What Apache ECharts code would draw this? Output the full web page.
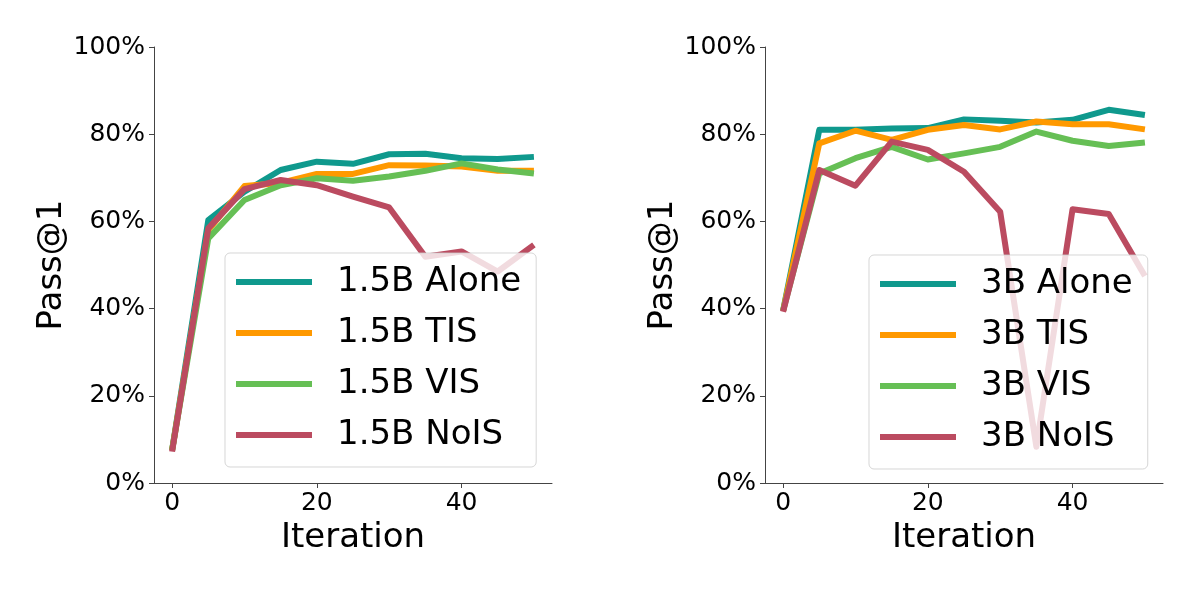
<!DOCTYPE html>
<html>
<head>
<meta charset="utf-8">
<script src="https://cdn.jsdelivr.net/npm/echarts@6/dist/echarts.min.js"></script>
<style>
  html, body { margin: 0; padding: 0; background: #fff; }
  #main { width: 1200px; height: 589px; }
</style>
</head>
<body>
<div id="main"></div>
<script>
// iterations shared by both panels
var iterations = [0, 5, 10, 15, 20, 25, 30, 35, 40, 45, 50];
var xTicks = [0, 20, 40];

// 1.5B panel, Pass@1 in %
var small_alone = [7.5, 60.3, 66.8, 71.8, 73.7, 73.2, 75.4, 75.5, 74.5, 74.3, 74.8];
var small_tis   = [7.5, 58.0, 68.1, 68.8, 70.9, 70.9, 72.9, 72.8, 72.6, 71.6, 71.6];
var small_vis   = [7.5, 56.1, 64.9, 68.3, 69.9, 69.3, 70.3, 71.6, 73.3, 71.9, 71.0];
var small_nois  = [7.2, 58.4, 67.4, 69.5, 68.3, 65.7, 63.2, 51.9, 53.1, 48.5, 54.6];

// 3B panel, Pass@1 in %
var big_alone = [39.5, 81.0, 81.0, 81.3, 81.4, 83.4, 83.1, 82.7, 83.3, 85.6, 84.4];
var big_tis   = [39.5, 77.9, 80.8, 78.7, 81.0, 82.1, 81.1, 82.9, 82.3, 82.3, 81.1];
var big_vis   = [39.5, 71.0, 74.5, 77.1, 74.2, 75.6, 77.1, 80.6, 78.5, 77.3, 78.1];
var big_nois  = [39.3, 71.8, 68.2, 78.3, 76.4, 71.4, 62.2, 8.3, 62.8, 61.7, 47.5];

var colors = ['#0f998d', '#ff9900', '#66bf55', '#bb4b60'];
var font = 'DejaVu Sans';

function pairs(ys) {
    return iterations.map(function (x, i) { return [x, ys[i]]; });
}

function makeX(idx) {
    return {
        type: 'value', gridIndex: idx, min: -2.5, max: 52.5,
        name: 'Iteration', nameLocation: 'middle', nameGap: 28,
        nameTextStyle: { fontFamily: font, fontSize: 34, color: '#000' },
        splitLine: { show: false },
        axisLine: { show: true, onZero: false, lineStyle: { color: '#444', width: 1 } },
        axisTick: { show: true, length: 5, customValues: xTicks, lineStyle: { color: '#444' } },
        axisLabel: { customValues: xTicks, fontFamily: font, fontSize: 25, color: '#000', margin: 8 }
    };
}

function makeY(idx) {
    return {
        type: 'value', gridIndex: idx, min: 0, max: 100, interval: 20,
        name: 'Pass@1', nameLocation: 'middle', nameGap: 76,
        nameTextStyle: { fontFamily: font, fontSize: 34, color: '#000' },
        splitLine: { show: false },
        axisLine: { show: true, onZero: false, lineStyle: { color: '#444', width: 1 } },
        axisTick: { show: true, length: 5, lineStyle: { color: '#444' } },
        axisLabel: { formatter: '{value}%', fontFamily: font, fontSize: 25, color: '#000', margin: 9 }
    };
}

function makeSeries(name, ys, c, idx) {
    return {
        name: name, type: 'line', xAxisIndex: idx, yAxisIndex: idx,
        data: pairs(ys), symbol: 'none', animation: false,
        lineStyle: { color: c, width: 6, join: 'round' },
        itemStyle: { color: c }
    };
}

function makeLegend(names, left, top) {
    return {
        data: names, orient: 'vertical', left: left, top: top,
        icon: 'rect', itemWidth: 76, itemHeight: 6, itemGap: 15,
        padding: [11, 15, 14, 11],
        backgroundColor: 'rgba(255,255,255,0.8)',
        borderColor: 'rgba(204,204,204,0.8)', borderWidth: 1, borderRadius: 5,
        textStyle: { fontFamily: font, fontSize: 34, color: '#000', lineHeight: 36, padding: [0, 0, 0, 20] }
    };
}

var smallNames = ['1.5B Alone', '1.5B TIS', '1.5B VIS', '1.5B NoIS'];
var bigNames = ['3B Alone', '3B TIS', '3B VIS', '3B NoIS'];
var smallData = [small_alone, small_tis, small_vis, small_nois];
var bigData = [big_alone, big_tis, big_vis, big_nois];

var series = [];
smallData.forEach(function (d, i) { series.push(makeSeries(smallNames[i], d, colors[i], 0)); });
bigData.forEach(function (d, i) { series.push(makeSeries(bigNames[i], d, colors[i], 1)); });

var myChart = echarts.init(document.getElementById('main'));
var option = {
    backgroundColor: '#fff',
    animation: false,
    grid: [
        { left: 154, right: 648, top: 47, bottom: 106 },
        { left: 765, right: 37, top: 47, bottom: 106 }
    ],
    xAxis: [makeX(0), makeX(1)],
    yAxis: [makeY(0), makeY(1)],
    legend: [makeLegend(smallNames, 225, 253), makeLegend(bigNames, 869, 255)],
    series: series
};
myChart.setOption(option, true);
</script>
</body>
</html>
